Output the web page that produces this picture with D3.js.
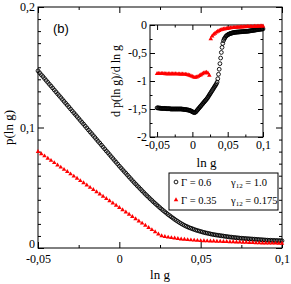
<!DOCTYPE html>
<html>
<head>
<meta charset="utf-8">
<script src="https://cdn.jsdelivr.net/npm/d3@7"></script>
<style>
  body { margin: 0; background: #fff; }
  text { font-family: "Liberation Serif", "Times New Roman", serif; fill: #000; }
</style>
</head>
<body>
<div id="chart"></div>
<script>
// ln g sampling of the two curves
var lnGBlack = [
  -0.050,-0.049,-0.048,-0.047,-0.046,-0.045,-0.044,-0.043,-0.042,-0.041,
  -0.040,-0.039,-0.038,-0.037,-0.036,-0.035,-0.034,-0.033,-0.032,-0.031,
  -0.030,-0.029,-0.028,-0.027,-0.026,-0.025,-0.024,-0.023,-0.022,-0.021,
  -0.020,-0.019,-0.018,-0.017,-0.016,-0.015,-0.014,-0.013,-0.012,-0.011,
  -0.010,-0.009,-0.008,-0.007,-0.006,-0.005,-0.004,-0.003,-0.002,-0.001,
  0.000,0.001,0.002,0.003,0.004,0.005,0.006,0.007,0.008,0.009,
  0.010,0.011,0.012,0.013,0.014,0.015,0.016,0.017,0.018,0.019,
  0.020,0.021,0.022,0.023,0.024,0.025,0.026,0.027,0.028,0.029,
  0.030,0.031,0.032,0.033,0.034,0.035,0.036,0.037,0.038,0.039,
  0.040,0.041,0.042,0.043,0.044,0.045,0.046,0.047,0.048,0.049,
  0.050,0.051,0.052,0.053,0.054,0.055,0.056,0.057,0.058,0.059,
  0.060,0.061,0.062,0.063,0.064,0.065,0.066,0.067,0.068,0.069,
  0.070,0.071,0.072,0.073,0.074,0.075,0.076,0.077,0.078,0.079,
  0.080,0.081,0.082,0.083,0.084,0.085,0.086,0.087,0.088,0.089,
  0.090,0.091,0.092,0.093,0.094,0.095,0.096,0.097,0.098,0.099,0.100
];
// Gamma = 0.6, gamma12 = 1.0 : p(ln g)
var pBlack = [
  0.1470,0.1454,0.1438,0.1423,0.1407,0.1391,0.1375,0.1359,0.1344,0.1328,
  0.1312,0.1296,0.1280,0.1265,0.1249,0.1233,0.1217,0.1201,0.1186,0.1170,
  0.1154,0.1138,0.1122,0.1107,0.1091,0.1075,0.1059,0.1043,0.1028,0.1012,
  0.0996,0.0980,0.0964,0.0949,0.0933,0.0917,0.0901,0.0885,0.0870,0.0854,
  0.0838,0.0822,0.0806,0.0791,0.0775,0.0759,0.0743,0.0727,0.0712,0.0696,
  0.0680,0.0665,0.0650,0.0635,0.0620,0.0605,0.0590,0.0575,0.0560,0.0545,
  0.0531,0.0517,0.0503,0.0489,0.0475,0.0461,0.0447,0.0434,0.0421,0.0408,
  0.0395,0.0382,0.0370,0.0358,0.0346,0.0334,0.0322,0.0311,0.0300,0.0289,
  0.0278,0.0268,0.0258,0.0248,0.0238,0.0229,0.0220,0.0211,0.0203,0.0195,
  0.0188,0.0181,0.0175,0.0169,0.0164,0.0159,0.0154,0.0149,0.0145,0.0141,
  0.0137,0.0133,0.0129,0.0126,0.0123,0.0120,0.0117,0.0114,0.0111,0.0109,
  0.0107,0.0105,0.0103,0.0101,0.0099,0.0097,0.0095,0.0093,0.0091,0.0090,
  0.0088,0.0087,0.0085,0.0084,0.0082,0.0081,0.0080,0.0079,0.0078,0.0077,
  0.0076,0.0075,0.0074,0.0073,0.0072,0.0071,0.0070,0.0069,0.0068,0.0067,
  0.0066,0.0065,0.0064,0.0064,0.0063,0.0063,0.0062,0.0062,0.0061,0.0061,0.0060
];
// Gamma = 0.6 : d p(ln g) / d ln g
var dBlack = [
  -1.48,-1.48,-1.48,-1.485,-1.485,-1.485,-1.49,-1.49,-1.49,-1.49,
  -1.49,-1.49,-1.49,-1.495,-1.495,-1.495,-1.495,-1.495,-1.495,-1.5,
  -1.5,-1.5,-1.5,-1.5,-1.5,-1.5,-1.5,-1.5,-1.5,-1.5,
  -1.5,-1.5,-1.5,-1.5,-1.5,-1.5,-1.505,-1.505,-1.505,-1.51,
  -1.51,-1.51,-1.515,-1.515,-1.52,-1.52,-1.525,-1.53,-1.535,-1.54,
  -1.55,-1.555,-1.56,-1.565,-1.56,-1.55,-1.535,-1.52,-1.505,-1.49,
  -1.475,-1.46,-1.445,-1.43,-1.415,-1.4,-1.385,-1.37,-1.355,-1.34,
  -1.325,-1.31,-1.29,-1.27,-1.25,-1.23,-1.21,-1.19,-1.17,-1.15,
  -1.13,-1.11,-1.09,-1.07,-1.05,-1.02,-0.96,-0.88,-0.79,-0.69,
  -0.59,-0.49,-0.40,-0.33,-0.28,-0.25,-0.23,-0.21,-0.195,-0.185,
  -0.175,-0.168,-0.162,-0.156,-0.151,-0.147,-0.143,-0.14,-0.137,-0.134,
  -0.132,-0.13,-0.128,-0.127,-0.126,-0.125,-0.124,-0.123,-0.122,-0.121,
  -0.12,-0.118,-0.117,-0.116,-0.115,-0.114,-0.113,-0.112,-0.111,-0.11,
  -0.108,-0.106,-0.104,-0.102,-0.1,-0.098,-0.096,-0.094,-0.092,-0.09,
  -0.088,-0.086,-0.084,-0.082,-0.08,-0.078,-0.076,-0.074,-0.072,-0.071,-0.07
];

var lnGRed = [
  -0.050,-0.048,-0.046,-0.044,-0.042,-0.040,-0.038,-0.036,-0.034,-0.032,
  -0.030,-0.028,-0.026,-0.024,-0.022,-0.020,-0.018,-0.016,-0.014,-0.012,
  -0.010,-0.008,-0.006,-0.004,-0.002,0.000,0.002,0.004,0.006,0.008,
  0.010,0.012,0.014,0.016,0.018,0.020,0.022,0.024,0.026,0.028,
  0.030,0.032,0.034,0.036,0.038,0.040,0.042,0.044,0.046,0.048,
  0.050,0.052,0.054,0.056,0.058,0.060,0.062,0.064,0.066,0.068,
  0.070,0.072,0.074,0.076,0.078,0.080,0.082,0.084,0.086,0.088,
  0.090,0.092,0.094,0.096,0.098,0.100
];
// Gamma = 0.35, gamma12 = 0.175 : p(ln g)
var pRed = [
  0.0800,0.0781,0.0763,0.0744,0.0726,0.0707,0.0688,0.0670,0.0651,0.0633,
  0.0614,0.0595,0.0577,0.0558,0.0540,0.0521,0.0502,0.0484,0.0465,0.0447,
  0.0428,0.0409,0.0391,0.0372,0.0354,0.0335,0.0316,0.0297,0.0279,0.0260,
  0.0242,0.0223,0.0205,0.0187,0.0169,0.0151,0.0133,0.0115,0.0100,0.0094,
  0.0089,0.0085,0.0081,0.0077,0.0074,0.0071,0.0068,0.0066,0.0064,0.0062,
  0.0060,0.0059,0.0058,0.0057,0.0056,0.0055,0.0054,0.0053,0.0052,0.0051,
  0.0050,0.0049,0.0048,0.0047,0.0046,0.0045,0.0044,0.0043,0.0042,0.0041,
  0.0040,0.0040,0.0039,0.0039,0.0038,0.0038
];
// Gamma = 0.35 : d p(ln g) / d ln g
var dRed = [
  -0.87,-0.87,-0.87,-0.87,-0.87,-0.87,-0.872,-0.872,-0.872,-0.874,
  -0.874,-0.874,-0.875,-0.875,-0.876,-0.876,-0.877,-0.878,-0.879,-0.88,
  -0.88,-0.885,-0.89,-0.90,-0.91,-0.92,-0.93,-0.935,-0.93,-0.92,
  -0.905,-0.89,-0.875,-0.86,-0.85,-0.845,-0.86,-0.90,-0.25,-0.20,
  -0.17,-0.15,-0.13,-0.115,-0.10,-0.09,-0.08,-0.075,-0.07,-0.065,
  -0.06,-0.056,-0.053,-0.05,-0.047,-0.045,-0.043,-0.041,-0.039,-0.037,
  -0.035,-0.034,-0.033,-0.032,-0.031,-0.03,-0.029,-0.028,-0.027,-0.026,
  -0.025,-0.024,-0.023,-0.022,-0.021,-0.02
];

var mainXTicks = [-0.05, 0, 0.05, 0.1];
var mainXMinor = [-0.025, 0.025, 0.075];
var mainYTicks = [0, 0.1, 0.2];
var mainYMinor = [0.01,0.02,0.03,0.04,0.05,0.06,0.07,0.08,0.09,0.11,0.12,0.13,0.14,0.15,0.16,0.17,0.18,0.19];
var insetXTicks = [-0.05, 0, 0.05, 0.1];
var insetXMinor = [-0.025, 0.025, 0.075];
var insetYTicks = [0, -0.5, -1, -1.5, -2];
var insetYMinor = [-0.25, -0.75, -1.25, -1.75];

var legendRows = [
  { gamma: "0.6", g12: "1.0", kind: "circle" },
  { gamma: "0.35", g12: "0.175", kind: "triangle" }
];

var svgWidth = 291;
var svgHeight = 284;
var main = { left: 38, right: 282, top: 7, bottom: 248 };
var inset = { left: 150, right: 263, top: 25, bottom: 137 };

var svg = d3.select("#chart")
  .append("svg")
  .attr("width", svgWidth)
  .attr("height", svgHeight);

var xMain = d3.scaleLinear().domain([-0.05, 0.1]).range([main.left, main.right]);
var yMain = d3.scaleLinear().domain([0, 0.2]).range([main.bottom, main.top]);
var xIn = d3.scaleLinear().domain([-0.06, 0.1]).range([inset.left, inset.right]);
var yIn = d3.scaleLinear().domain([-2, 0]).range([inset.bottom, inset.top]);

function comma(v) {
  return String(Math.round(v * 1000) / 1000).replace(".", ",");
}

// frame with inward ticks on all four sides; returns the labelled left axis
function frame(g, x, y, box, xt, xm, yt, ym, big, small, padX, padY) {
  g.append("rect")
    .attr("x", box.left).attr("y", box.top)
    .attr("width", box.right - box.left).attr("height", box.bottom - box.top)
    .attr("fill", "#fff");

  function put(axis, tx, ty, labels) {
    var a = g.append("g").attr("transform", `translate(${tx},${ty})`).call(axis);
    a.select(".domain").remove();
    a.selectAll("line").attr("stroke", "#000");
    a.selectAll("text").style("font-size", "12px");
    if (!labels) a.selectAll("text").remove();
    return a;
  }
  put(d3.axisBottom(x).tickValues(xt).tickSize(-big).tickPadding(padX).tickFormat(comma), 0, box.bottom, true);
  put(d3.axisBottom(x).tickValues(xm).tickSize(-small), 0, box.bottom, false);
  put(d3.axisTop(x).tickValues(xt).tickSize(-big), 0, box.top, false);
  put(d3.axisTop(x).tickValues(xm).tickSize(-small), 0, box.top, false);
  var left = put(d3.axisLeft(y).tickValues(yt).tickSize(-big).tickPadding(padY).tickFormat(comma), box.left, 0, true);
  put(d3.axisLeft(y).tickValues(ym).tickSize(-small), box.left, 0, false);
  put(d3.axisRight(y).tickValues(yt).tickSize(-big), box.right, 0, false);
  put(d3.axisRight(y).tickValues(ym).tickSize(-small), box.right, 0, false);

  g.append("rect")
    .attr("x", box.left).attr("y", box.top)
    .attr("width", box.right - box.left).attr("height", box.bottom - box.top)
    .attr("fill", "none").attr("stroke", "#000").attr("stroke-width", 1);
  return left;
}

var tri = d3.symbol().type(d3.symbolTriangle).size(9);

function drawSeries(g, x, y, xs, ys, kind) {
  var pts = xs.map(function(v, i) { return { x: v, y: ys[i] }; });
  if (kind === "circle") {
    g.append("g").selectAll("circle")
      .data(pts)
      .enter()
      .append("circle")
      .attr("cx", d => x(d.x))
      .attr("cy", d => y(d.y))
      .attr("r", 1.9)
      .attr("fill", "none")
      .attr("stroke", "#000")
      .attr("stroke-width", 0.9);
  } else {
    g.append("g").selectAll("path")
      .data(pts)
      .enter()
      .append("path")
      .attr("d", tri)
      .attr("transform", d => `translate(${x(d.x)},${y(d.y)})`)
      .attr("fill", "#ff0000");
  }
}

// Main plot
var mainGroup = svg.append("g");
var mainLeft = frame(mainGroup, xMain, yMain, main, mainXTicks, mainXMinor, mainYTicks, mainYMinor, 6, 3, 6, 3);
drawSeries(mainGroup, xMain, yMain, lnGBlack, pBlack, "circle");
drawSeries(mainGroup, xMain, yMain, lnGRed, pRed, "triangle");

// lift the bottom "0" of the y axis so it clears "-0,05"
mainLeft.selectAll(".tick text")
  .filter(d => d === 0)
  .attr("dy", "-0.05em");

mainGroup.append("text")
  .attr("x", (main.left + main.right) / 2)
  .attr("y", 279)
  .attr("text-anchor", "middle")
  .style("font-size", "13px")
  .text("ln g");

mainGroup.append("text")
  .attr("transform", `translate(13, ${(main.top + main.bottom) / 2}) rotate(-90)`)
  .attr("text-anchor", "middle")
  .style("font-size", "13px")
  .text("p(ln g)");

mainGroup.append("text")
  .attr("x", 53)
  .attr("y", 33)
  .style("font-family", "'Liberation Sans', Arial, sans-serif")
  .style("font-size", "13px")
  .text("(b)");

// Inset
var insetGroup = svg.append("g");
frame(insetGroup, xIn, yIn, inset, insetXTicks, insetXMinor, insetYTicks, insetYMinor, 5, 2.5, 3, 3);
drawSeries(insetGroup, xIn, yIn, lnGBlack, dBlack, "circle");
drawSeries(insetGroup, xIn, yIn, lnGRed, dRed, "triangle");

insetGroup.append("text")
  .attr("x", (inset.left + inset.right) / 2)
  .attr("y", 167)
  .attr("text-anchor", "middle")
  .style("font-size", "13px")
  .text("ln g");

insetGroup.append("text")
  .attr("transform", `translate(120, ${(inset.top + inset.bottom) / 2}) rotate(-90)`)
  .attr("text-anchor", "middle")
  .style("font-size", "12px")
  .text("d p(ln g)/d ln g");

// Legend
var legend = svg.append("g");
legend.append("rect")
  .attr("x", 169).attr("y", 173)
  .attr("width", 109).attr("height", 37)
  .attr("fill", "#fff").attr("stroke", "#000").attr("stroke-width", 1);

legendRows.forEach(function(r, i) {
  var cy = 182 + i * 18;
  if (r.kind === "circle") {
    legend.append("circle").attr("cx", 176).attr("cy", cy).attr("r", 1.9)
      .attr("fill", "none").attr("stroke", "#000").attr("stroke-width", 0.9);
  } else {
    legend.append("path").attr("d", tri).attr("transform", `translate(176,${cy})`).attr("fill", "#ff0000");
  }
  legend.append("text")
    .attr("x", 181).attr("y", cy + 3.5)
    .style("font-size", "10.5px")
    .text("\u0393 = " + r.gamma);
  var t = legend.append("text")
    .attr("x", 231).attr("y", cy + 3.5)
    .style("font-size", "10.5px");
  t.append("tspan").text("\u03b3");
  t.append("tspan").attr("dy", 2.5).style("font-size", "7px").text("12");
  t.append("tspan").attr("dy", -2.5).text(" = " + r.g12);
});
</script>
</body>
</html>
